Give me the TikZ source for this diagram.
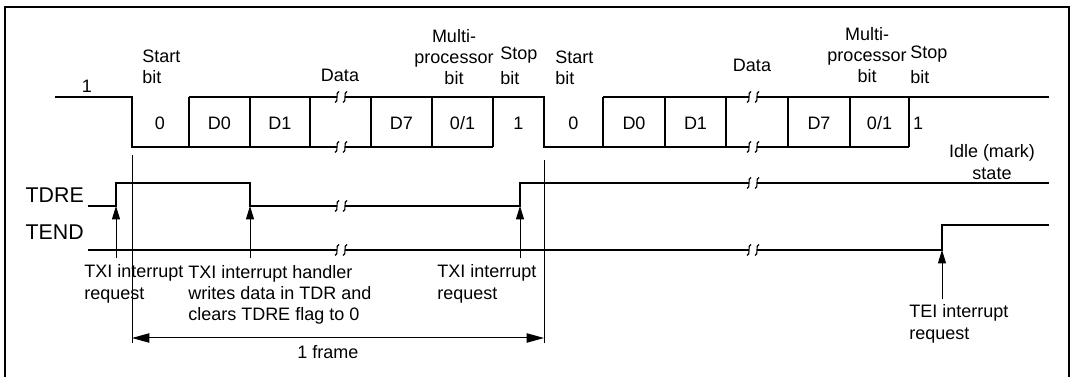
\documentclass[tikz,border=0pt]{standalone}
\usepackage{fontspec}
\setmainfont{Liberation Sans}
\usetikzlibrary{arrows.meta,positioning}
\tikzset{every node/.style={font=\fontsize{13.5}{16}\selectfont,inner sep=0pt},
 sig/.style={line width=1.4pt},
 border/.style={line width=1.5pt},
 thinline/.style={line width=.75pt},
 reqarrow/.style={-{Triangle[length=10pt,width=6pt]},line width=.75pt},
 dimarrow/.style={{Triangle[length=13pt,width=7pt]}-{Triangle[length=13pt,width=7pt]},line width=.75pt},
 sigtext/.style={font=\fontsize{16}{19}\selectfont,anchor=east},
 brk/.pic={\fill[white] (-4,-3) rectangle (4,3);
  \foreach \c in {-4,4}{\draw[line width=.85pt] (\c+2,-5.5) .. controls (\c-2,-5.5) and (\c+2,5.5) .. (\c-2,5.5);}}}

\begin{document}
\begin{tikzpicture}[x=0.75pt,y=-0.75pt]

\useasboundingbox (0,0) rectangle (1072,377);
\draw[border] (5,377) -- (5,7) -- (1069,7) -- (1069,377);

% serial data
\draw[sig] (55,97) -- (132,97) -- (132,147) -- (493,147);
\draw[sig] (189,97) -- (544,97) -- (544,147) -- (909,147);
\draw[sig] (603,97) -- (1049,97);
\foreach \x in {189,250,310,371,432,493,603,665,726,788,850,909}{\draw[sig] (\x,97) -- (\x,147);}

% flags
\draw[sig] (88,206) -- (116,206) -- (116,183) -- (250,183) -- (250,206) -- (520,206) -- (520,183) -- (1049,183);
\draw[sig] (88,250) -- (942,250) -- (942,225) -- (1049,225);
\foreach \x/\y in {341/97,341/147,753/97,753/147,341/206,341/250,753/183,753/250}{\path (\x,\y) pic {brk};}

\node (one) at (87,86) {1};
\foreach \x/\t [count=\i] in {160/0,219.5/D0,280/D1,401.5/D7,462.5/{0/1},518.5/1,573.5/0,634/D0,695.5/D1,819/D7,879.5/{0/1},918/1}{
 \node (bit\i) at (\x,123) {\t};}

\node[anchor=west,align=left] (startA) at (142,67) {Start\\bit};
\node (dataA) at (340,75) {Data};
\node[align=center] (mpA) at (454,57) {Multi-\\processor\\bit};
\node[anchor=west,align=left] (stopA) at (500,66) {Stop\\[3pt]bit};
\node[anchor=west,align=left] (startB) at (555,68) {Start\\bit};
\node (dataB) at (752,65.5) {Data};
\node[align=center] (mpB) at (867,55) {Multi-\\processor\\bit};
\node[anchor=west,align=left] (stopB) at (910,65) {Stop\\[3pt]bit};
\node[align=center] (idle) at (992,162) {Idle (mark)\\state};

\node[sigtext] (tdre) at (84,195) {TDRE};
\node[sigtext] (tend) at (84,232) {TEND};

\node[anchor=west,align=left] (txiA) at (84,284) {TXI interrupt\\request};
\node[anchor=west,align=left] (handler) at (188,295) {TXI interrupt handler\\writes data in TDR and\\clears TDRE flag to 0};
\node[anchor=west,align=left] (txiB) at (437,284) {TXI interrupt\\request};
\node[anchor=west,align=left] (tei) at (909,324) {TEI interrupt\\request};

\coordinate (q1) at (116,206);
\coordinate (q2) at (250,206);
\coordinate (q3) at (520,206);
\coordinate (q4) at (942,250);
\draw[reqarrow] ([yshift=5pt]txiA.north -| q1) -- (q1);
\draw[reqarrow] ([yshift=5pt]handler.north -| q2) -- (q2);
\draw[reqarrow] ([yshift=5pt]txiB.north -| q3) -- (q3);
\draw[reqarrow] ([yshift=4pt]tei.north -| q4) -- (q4);

% one frame
\coordinate (fa) at (132,155);
\coordinate (fb) at (544,160);
\coordinate (fs) at (132,338);
\coordinate (fe) at (544,338);
\draw[thinline] (fa) -- ([yshift=-4pt]fs);
\draw[thinline] (fb) -- ([yshift=-4pt]fe);
\draw[dimarrow] (fs) -- (fe);
\node (frame) at (328,352) {1 frame};

\end{tikzpicture}
\end{document}
